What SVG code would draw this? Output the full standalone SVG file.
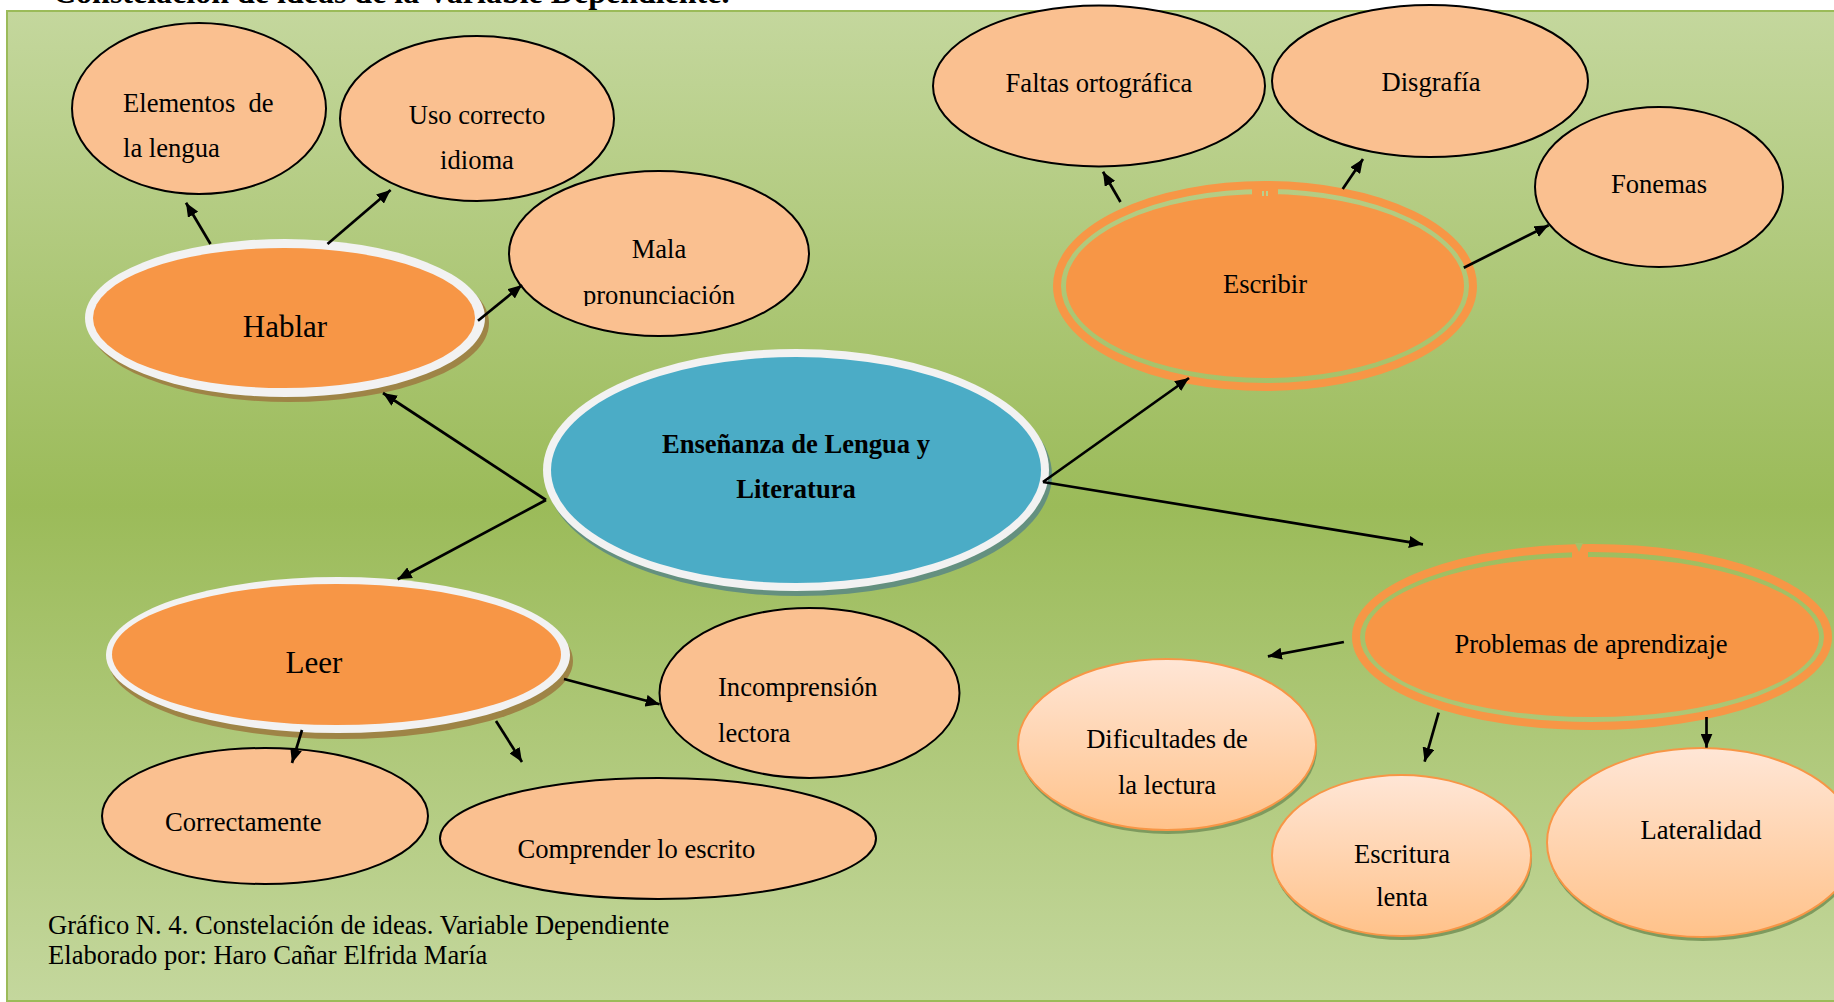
<svg xmlns="http://www.w3.org/2000/svg" width="1834" height="1002" viewBox="0 0 1834 1002">
<defs>
<linearGradient id="bg" x1="0" y1="0" x2="0" y2="1">
<stop offset="0" stop-color="#c4d79d"/>
<stop offset="0.5" stop-color="#9bbb59"/>
<stop offset="1" stop-color="#c4d79d"/>
</linearGradient>
<linearGradient id="peach" x1="0" y1="0" x2="0" y2="1">
<stop offset="0" stop-color="#ffe6d6"/>
<stop offset="1" stop-color="#ffc28a"/>
</linearGradient>
<marker id="ah" viewBox="0 0 14 12" refX="14" refY="6" markerWidth="14" markerHeight="12" markerUnits="userSpaceOnUse" orient="auto">
<path d="M0,0 L14,6 L0,12 z" fill="#000"/>
</marker>
<clipPath id="malaClip"><rect x="500" y="160" width="320" height="146"/></clipPath>
<style>
.t{font-family:"Liberation Serif","Times New Roman",serif;font-size:26.6px;fill:#000}
.c{text-anchor:middle}
.big{font-size:31px}
.b{font-weight:bold}
.sat{fill:#fac090;stroke:#000;stroke-width:2}
.grad{fill:url(#peach);stroke:#f79646;stroke-width:2}
.gsh{fill:#7e9a5e}
.ring{fill:#f2f2f2}
.or{fill:#f79646}
.band{fill:none;stroke:#f79646;stroke-width:8}
.bsh{fill:#9e8446}
.con{stroke:#000;stroke-width:2.7;fill:none;marker-end:url(#ah)}
</style>
</defs>

<rect x="7" y="11" width="1840" height="990" fill="url(#bg)" stroke="#9bbb59" stroke-width="2"/>

<text class="t b" x="53" y="3" style="font-size:32px">Constelación de ideas de la Variable Dependiente.</text>

<g id="elementos">
<ellipse class="sat" cx="199" cy="108.5" rx="127" ry="85.5"/>
<text class="t" x="123" y="112" xml:space="preserve">Elementos  de</text>
<text class="t" x="123" y="157">la lengua</text>
</g>

<g id="uso">
<ellipse class="sat" cx="477" cy="118.5" rx="137" ry="82.5"/>
<text class="t c" x="477" y="124">Uso correcto</text>
<text class="t c" x="477" y="169">idioma</text>
</g>

<g id="mala">
<ellipse class="sat" cx="659" cy="253.5" rx="150" ry="82.5"/>
<g clip-path="url(#malaClip)">
<text class="t c" x="659" y="258">Mala</text>
<text class="t c" x="659" y="304">pronunciación</text>
</g>
</g>

<g id="hablar">
<ellipse class="bsh" cx="289" cy="323" rx="200" ry="79"/>
<ellipse class="ring" cx="285" cy="318" rx="200" ry="79"/>
<ellipse class="or" cx="284" cy="318" rx="191" ry="70"/>
<text class="t c big" x="285" y="337">Hablar</text>
</g>

<g id="central">
<ellipse cx="799" cy="475" rx="253" ry="121" fill="#64907f"/>
<ellipse class="ring" cx="796" cy="470" rx="253" ry="121"/>
<ellipse cx="796" cy="470" rx="245" ry="113" fill="#4bacc6"/>
<text class="t c b" x="796" y="453">Enseñanza de Lengua y</text>
<text class="t c b" x="796" y="498">Literatura</text>
</g>

<g id="leer">
<ellipse class="bsh" cx="341" cy="661" rx="232" ry="78"/>
<ellipse class="ring" cx="338" cy="655" rx="232" ry="78"/>
<ellipse class="or" cx="336.5" cy="654.5" rx="224.5" ry="70.5"/>
<text class="t c big" x="314" y="673">Leer</text>
</g>

<g id="incomprension">
<ellipse class="sat" cx="809.5" cy="693" rx="150" ry="85"/>
<text class="t" x="718" y="696">Incomprensión</text>
<text class="t" x="718" y="742">lectora</text>
</g>

<g id="correctamente">
<ellipse class="sat" cx="265" cy="816" rx="163" ry="68"/>
<text class="t" x="165" y="831">Correctamente</text>
</g>

<g id="comprender">
<ellipse class="sat" cx="658" cy="838.5" rx="218" ry="60.5"/>
<text class="t" x="517.5" y="858">Comprender lo escrito</text>
</g>

<g id="faltas">
<ellipse class="sat" cx="1099" cy="86" rx="166" ry="80.5"/>
<text class="t c" x="1099" y="92">Faltas ortográfica</text>
</g>

<g id="disgrafia">
<ellipse class="sat" cx="1430" cy="81" rx="158" ry="76"/>
<text class="t c" x="1431" y="91">Disgrafía</text>
</g>

<g id="fonemas">
<ellipse class="sat" cx="1659" cy="187" rx="124" ry="80"/>
<text class="t c" x="1659" y="193">Fonemas</text>
</g>

<g id="escribir">
<ellipse class="band" cx="1265" cy="286" rx="208" ry="101"/>
<ellipse class="or" cx="1265" cy="286" rx="199" ry="92"/>
<rect class="or" x="1252" y="188" width="26" height="10"/>
<rect x="1262" y="191" width="2" height="5" fill="#b9d08c"/>
<rect x="1266" y="191" width="2" height="5" fill="#b9d08c"/>
<text class="t c" x="1265" y="293">Escribir</text>
</g>

<g id="problemas">
<ellipse class="band" cx="1592" cy="637" rx="236" ry="89"/>
<ellipse class="or" cx="1592" cy="637" rx="227" ry="80"/>
<rect class="or" x="1572" y="550" width="16" height="9"/>
<path d="M1575,543 L1579,552 L1583,543 z" fill="#a5c168"/>
<text class="t c" x="1591" y="653">Problemas de aprendizaje</text>
</g>

<g id="dificultades">
<ellipse class="gsh" cx="1168" cy="748.5" rx="149" ry="85.5"/>
<ellipse class="grad" cx="1167" cy="744.5" rx="149" ry="85.5"/>
<text class="t c" x="1167" y="748">Dificultades de</text>
<text class="t c" x="1167" y="794">la lectura</text>
</g>

<g id="escritura">
<ellipse class="gsh" cx="1402.5" cy="859.5" rx="129.5" ry="80.5"/>
<ellipse class="grad" cx="1401.5" cy="855.5" rx="129.5" ry="80.5"/>
<text class="t c" x="1402" y="863">Escritura</text>
<text class="t c" x="1402" y="906">lenta</text>
</g>

<g id="lateralidad">
<ellipse class="gsh" cx="1703" cy="846.5" rx="155" ry="94.5"/>
<ellipse class="grad" cx="1702" cy="842.5" rx="155" ry="94.5"/>
<text class="t c" x="1701" y="839">Lateralidad</text>
</g>

<g id="connectors">
<line class="con" x1="210.5" y1="244" x2="186" y2="202.7"/>
<line class="con" x1="327.5" y1="244" x2="390.6" y2="190"/>
<line class="con" x1="478" y1="320.7" x2="522" y2="285"/>
<line class="con" x1="546" y1="500" x2="383" y2="393"/>
<line class="con" x1="546" y1="500" x2="397.7" y2="579.3"/>
<line class="con" x1="1043" y1="482" x2="1189" y2="378"/>
<line class="con" x1="1043" y1="482" x2="1423" y2="544.3"/>
<line class="con" x1="1120.5" y1="202" x2="1103" y2="171.7"/>
<line class="con" x1="1342.7" y1="189" x2="1363" y2="159"/>
<line class="con" x1="1463.8" y1="267.7" x2="1548.6" y2="225.3"/>
<line class="con" x1="564" y1="679" x2="659.6" y2="704.3"/>
<line class="con" x1="302" y1="730" x2="292" y2="763"/>
<line class="con" x1="496" y1="721" x2="522" y2="762"/>
<line class="con" x1="1343.9" y1="642" x2="1267.9" y2="656.3"/>
<line class="con" x1="1438.6" y1="712.7" x2="1424.6" y2="761.7"/>
<line class="con" x1="1706.5" y1="717" x2="1706.5" y2="747.7"/>
</g>

<g id="caption">
<text class="t" x="48" y="934">Gráfico N. 4. Constelación de ideas. Variable Dependiente</text>
<text class="t" x="48" y="964">Elaborado por: Haro Cañar Elfrida María</text>
</g>
</svg>
